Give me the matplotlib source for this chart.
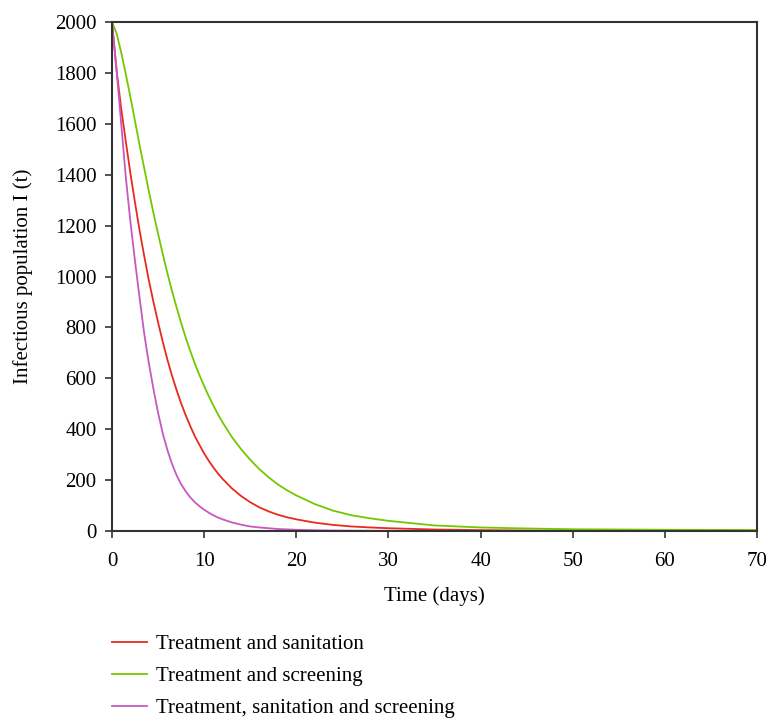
import matplotlib
matplotlib.use("Agg")
import matplotlib.pyplot as plt

plt.rcParams['font.family'] = ['Liberation Serif', 'DejaVu Serif']

t = [0, 0.5, 1, 1.5, 2, 2.5, 3, 3.5, 4, 4.5, 5, 5.5, 6, 6.5, 7, 7.5, 8, 8.5, 9, 9.5,
     10, 10.5, 11, 11.5, 12, 13, 14, 15, 16, 17, 18, 19, 20, 22, 24, 26, 28, 30,
     35, 40, 45, 50, 60, 70]
sanitation = [2000, 1810, 1660, 1530, 1405, 1290, 1180, 1080, 985, 900, 820, 745,
              675, 612, 555, 502, 455, 412, 372, 338, 305, 276, 250, 226, 205, 168,
              138, 113, 93, 77, 64, 54, 46, 33, 24, 18, 14, 11, 6, 3.5, 2, 1.2, 0.6, 0.3]
screening = [2000, 1955, 1880, 1795, 1705, 1610, 1515, 1425, 1335, 1250, 1168, 1090,
             1015, 945, 880, 818, 760, 707, 657, 612, 570, 530, 493, 459, 427, 370,
             322, 280, 243, 211, 183, 160, 140, 106, 80, 62, 50, 40, 22, 14, 10, 7, 5, 4]
combined = [2000, 1810, 1600, 1390, 1215, 1060, 915, 775, 660, 558, 465, 385,
            320, 265, 220, 184, 156, 132, 113, 97, 84, 72, 62, 53, 46, 34,
            25, 18, 14, 11, 8, 6.5, 5, 3, 2, 1.5, 1, 0.8, 0.4, 0.2, 0.1, 0.1, 0.05, 0.03]

labels = ["Treatment and sanitation", "Treatment and screening",
          "Treatment, sanitation and screening"]
colors = ["#e82a1e", "#72c800", "#c858c0"]

fig = plt.figure(figsize=(7.67, 7.18), dpi=100)
ax = fig.add_axes([0.146, 0.2604, 0.841, 0.709])

for y, lab, c in zip([sanitation, screening, combined], labels, colors):
    ax.plot(t, y, color=c, lw=1.3, label=lab)

ax.set_xlim(0, 70)
ax.set_ylim(0, 2000)
ax.set_xticks(range(0, 71, 10))
ax.set_yticks(range(0, 2001, 200))
ax.tick_params(direction='out', length=5, width=1.2, labelsize=15, color='#333333',
               top=False, right=False)
ax.tick_params(axis='x', pad=10)
ax.tick_params(axis='y', pad=6)
for s in ax.spines.values():
    s.set_linewidth(1.5)
    s.set_color('#333333')

ax.set_xlabel("Time (days)", fontsize=15, labelpad=11)
ax.set_ylabel("Infectious population I (t)", fontsize=15, labelpad=16)

leg = ax.legend(loc='upper left', bbox_to_anchor=(112 / 767, 0.1163),
                bbox_transform=fig.transFigure, frameon=False, fontsize=15,
                handlelength=1.7, handletextpad=0.4, labelspacing=0.6,
                borderaxespad=0, borderpad=0)

fig.savefig("out.png", dpi=100)
